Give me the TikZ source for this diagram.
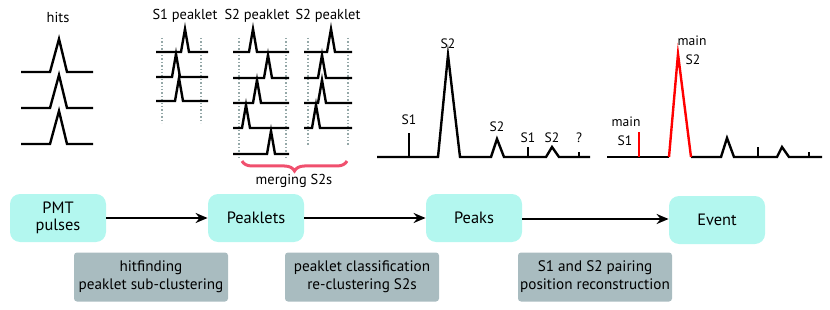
\documentclass[tikz,border=0pt]{standalone}
\usepackage{fontspec}
\setmainfont{PT Sans}
\usetikzlibrary{arrows.meta,decorations.pathreplacing}
\definecolor{boxcyan}{HTML}{B3F7EF}
\definecolor{boxgrey}{HTML}{A9BCC0}
\definecolor{braceRed}{HTML}{F0506E}
\definecolor{dotgrey}{HTML}{95A8A8}
\begin{document}
\begin{tikzpicture}[x=0.5pt,y=-0.5pt,
  stage/.style={fill=boxcyan,rounded corners=5pt,minimum width=48pt,minimum height=24pt,align=center,font=\fontsize{8.2}{9.5}\selectfont,inner sep=0pt},
  proc/.style={fill=boxgrey,rounded corners=1.5pt,minimum width=77pt,minimum height=24.5pt,align=center,font=\fontsize{7.6}{9}\selectfont,inner sep=0pt},
  flow/.style={line width=1pt,-{Stealth[length=6pt,width=5pt]}},
  trace/.style={line width=1.2pt,line join=miter},
  guide/.style={dotgrey,densely dotted,line width=0.7pt},
  lbl/.style={font=\fontsize{7.2}{8}\selectfont,inner sep=0pt},
  slbl/.style={font=\fontsize{6.8}{8}\selectfont,inner sep=0pt}]
\useasboundingbox (0,0) rectangle (830,310);

% stage boxes
\node[stage] (pmt) at (58,218) {PMT\\[-1pt]pulses};
\node[stage] (plets) at (256,218) {Peaklets};
\node[stage] (peaks) at (474,218) {Peaks};
\node[stage] (event) at (717,220) {Event};
\draw[flow] (pmt.east) -- (plets.west);
\draw[flow] (plets.east) -- (peaks.west);
\draw[flow] (peaks.east |- 0,219) -- (event.west |- 0,219);

% process boxes
\node[proc] (p1) at (151,277) {hitfinding\\peaklet sub-clustering};
\node[proc] (p2) at (362,277) {peaklet classification\\re-clustering S2s};
\node[proc] (p3) at (595,277) {S1 and S2 pairing\\position reconstruction};

% hits
\node[lbl] (hits) at (58,17) {hits};
\foreach \b in {72,108,144}{
  \draw[trace] (21,\b) -- (50,\b) -- (59,\b-33) -- (67,\b) -- (93,\b);
}

% S1 peaklet
\node[lbl] (s1p) at (185,16) {S1 peaklet};
\draw[guide] (162,38) -- (162,123);
\draw[guide] (201,38) -- (201,123);
\foreach \b/\p in {52/185,77/176,101/179}{
  \draw[trace] (156,\b) -- (\p-4,\b) -- (\p,\b-23) -- (\p+4,\b) -- (208,\b);
}

% S2 peaklet 1
\node[lbl] (s2pa) at (257,16) {S2 peaklet};
\draw[guide] (239,38) -- (239,158);
\draw[guide] (286,38) -- (286,158);
\foreach \b/\p in {52/253,78/268,103/257,128/246,154/271}{
  \draw[trace] (233,\b) -- (\p-4,\b) -- (\p,\b-23) -- (\p+4,\b) -- (289,\b);
}

% S2 peaklet 2
\node[lbl] (s2pb) at (328,16) {S2 peaklet};
\draw[guide] (308,38) -- (308,145);
\draw[guide] (348,38) -- (348,145);
\foreach \b/\p in {52/331,78/322,103/322,128/316}{
  \draw[trace] (304,\b) -- (\p-4,\b) -- (\p,\b-23) -- (\p+4,\b) -- (352,\b);
}

% brace
\coordinate (brL) at (242,161);
\coordinate (brR) at (347,161);
\draw[braceRed,line width=1.5pt,decorate,decoration={brace,mirror,amplitude=5pt}] (brL) -- (brR);
\node[lbl] (merge) at (294,181) {merging S2s};

% peaks panel
\draw[trace] (377,157) -- (438,157) -- (448,55) -- (460,157) -- (491,157) -- (497,139) -- (504,157)
  -- (546,157) -- (552,147) -- (559,157) -- (590,157);
\draw[trace] (409,157) -- (409,133);
\draw[trace] (528,157) -- (528,147);
\draw[trace] (579,157) -- (579,152);
\node[slbl] (pS1) at (409,120) {S1};
\node[slbl] (pS2) at (448,44) {S2};
\node[slbl] (pS2b) at (497,127) {S2};
\node[slbl] (pS1b) at (528,138) {S1};
\node[slbl] (pS2c) at (552,138) {S2};
\node[slbl] (pq) at (579,138) {?};

% event panel
\draw[trace] (607,157) -- (669,157);
\draw[trace] (691,157) -- (721,157) -- (727,138) -- (734,157) -- (777,157) -- (782,147) -- (789,157) -- (822,157);
\draw[trace,red] (669,157) -- (678,54) -- (691,157);
\draw[trace,red] (639,157) -- (639,132);
\draw[trace] (758,157) -- (758,147);
\draw[trace] (809,157) -- (809,152);
\node[slbl] (em1) at (626,122) {main};
\node[slbl] (es1) at (625,141) {S1};
\node[slbl] (em2) at (692,41) {main};
\node[slbl] (es2) at (693,60) {S2};
\end{tikzpicture}
\end{document}
